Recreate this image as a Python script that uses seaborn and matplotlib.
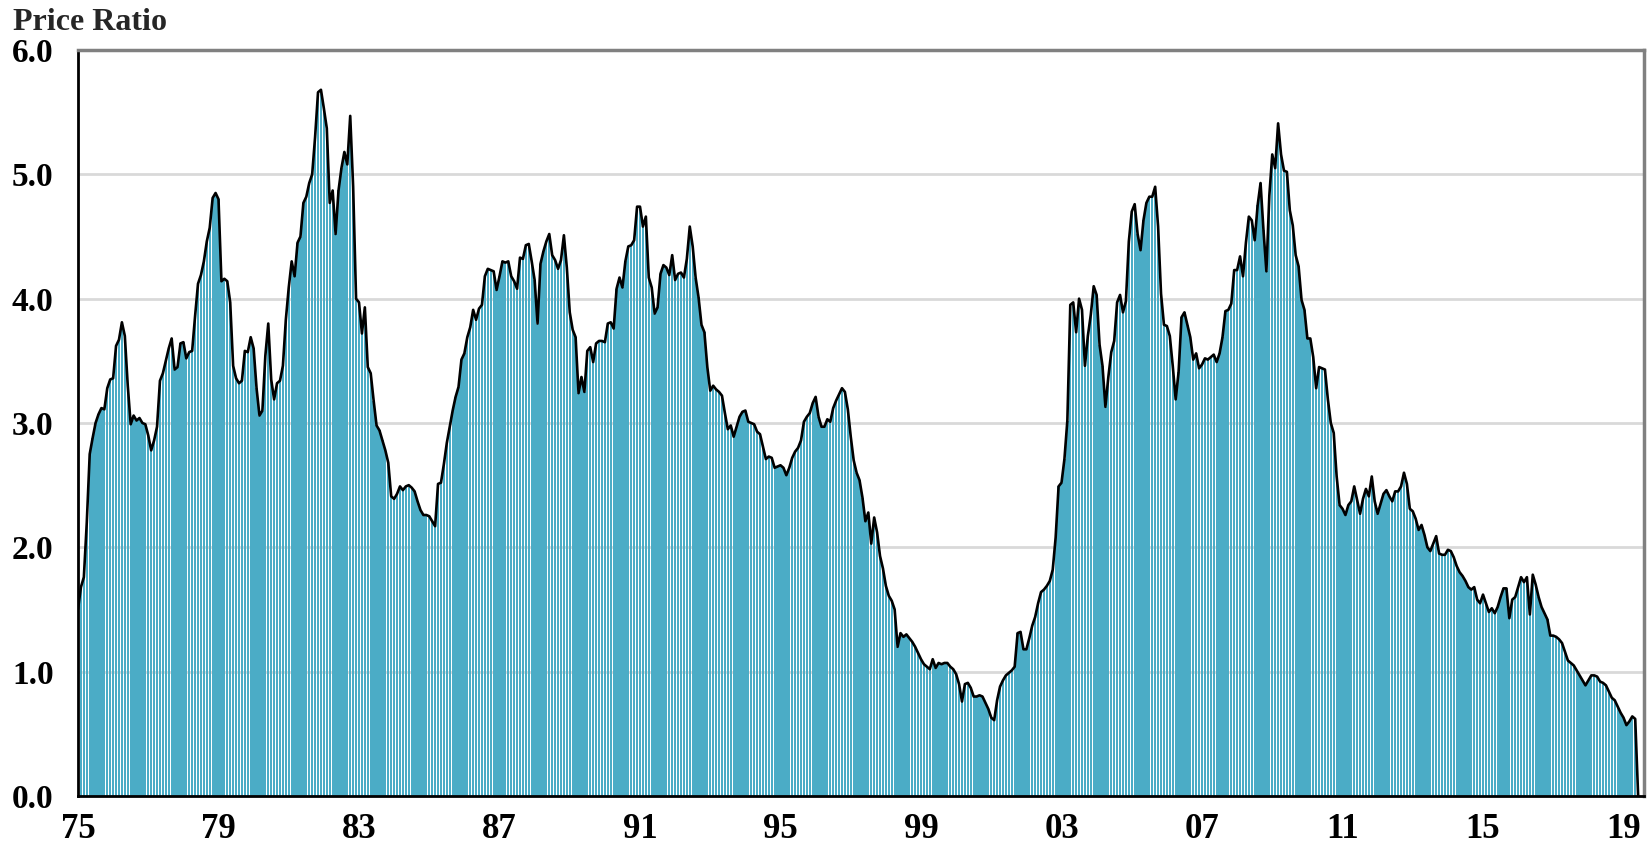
import numpy as np
import pandas as pd
import matplotlib
matplotlib.use("Agg")
import matplotlib.pyplot as plt
import seaborn as sns

# monthly price ratio, Jan 1975 - Jun 2019
ratio_1975_79 = [
    1.50, 1.68, 1.76, 2.20, 2.75, 2.88, 3.00, 3.07, 3.12, 3.11, 3.28, 3.35,
    3.36, 3.62, 3.67, 3.81, 3.70, 3.30, 2.99, 3.06, 3.02, 3.04, 3.00, 2.99,
    2.90, 2.78, 2.86, 2.97, 3.34, 3.40, 3.50, 3.60, 3.68, 3.43, 3.45, 3.64,
    3.65, 3.52, 3.57, 3.58, 3.86, 4.12, 4.19, 4.30, 4.46, 4.57, 4.81, 4.85,
    4.80, 4.14, 4.16, 4.14, 3.97, 3.46, 3.36, 3.32, 3.34, 3.58, 3.57, 3.69,
]
ratio_1980s = [
    3.60, 3.28, 3.06, 3.10, 3.54, 3.80, 3.35, 3.19, 3.32, 3.34, 3.46, 3.83,
    4.09, 4.30, 4.18, 4.45, 4.50, 4.77, 4.82, 4.93, 5.00, 5.30, 5.66, 5.68,
    5.53, 5.37, 4.77, 4.87, 4.52, 4.87, 5.05, 5.18, 5.08, 5.47, 4.90, 4.00,
    3.97, 3.72, 3.93, 3.45, 3.40, 3.18, 2.98, 2.94, 2.86, 2.78, 2.68, 2.41,
    2.39, 2.43, 2.49, 2.46, 2.49, 2.50, 2.48, 2.45, 2.37, 2.30, 2.26, 2.26,
    2.25, 2.21, 2.17, 2.51, 2.52, 2.67, 2.84, 2.97, 3.10, 3.21, 3.29, 3.51,
    3.56, 3.69, 3.77, 3.91, 3.83, 3.92, 3.95, 4.18, 4.24, 4.23, 4.22, 4.07,
    4.18, 4.30, 4.29, 4.30, 4.18, 4.14, 4.08, 4.33, 4.32, 4.43, 4.44, 4.30,
    4.15, 3.80, 4.28, 4.38, 4.46, 4.52, 4.35, 4.31, 4.24, 4.31, 4.51, 4.25,
    3.89, 3.75, 3.69, 3.24, 3.37, 3.25, 3.58, 3.61, 3.49, 3.64, 3.66, 3.66,
]
ratio_1990s = [
    3.65, 3.80, 3.81, 3.76, 4.08, 4.17, 4.09, 4.30, 4.42, 4.43, 4.47, 4.74,
    4.74, 4.58, 4.66, 4.17, 4.09, 3.88, 3.93, 4.20, 4.27, 4.25, 4.19, 4.35,
    4.15, 4.20, 4.21, 4.17, 4.32, 4.58, 4.42, 4.17, 4.01, 3.79, 3.73, 3.45,
    3.26, 3.30, 3.27, 3.25, 3.22, 3.08, 2.95, 2.98, 2.89, 2.97, 3.05, 3.09,
    3.10, 3.01, 3.00, 2.99, 2.93, 2.91, 2.81, 2.71, 2.73, 2.72, 2.64, 2.65,
    2.66, 2.64, 2.58, 2.64, 2.72, 2.77, 2.80, 2.86, 3.01, 3.05, 3.08, 3.16,
    3.21, 3.05, 2.97, 2.97, 3.03, 3.01, 3.12, 3.18, 3.23, 3.28, 3.25, 3.11,
    2.89, 2.70, 2.60, 2.54, 2.40, 2.21, 2.28, 2.03, 2.24, 2.12, 1.93, 1.83,
    1.69, 1.61, 1.57, 1.50, 1.20, 1.31, 1.28, 1.30, 1.27, 1.24, 1.20, 1.15,
    1.10, 1.06, 1.04, 1.02, 1.10, 1.03, 1.07, 1.06, 1.07, 1.07, 1.04, 1.02,
]
ratio_2000s = [
    0.98, 0.90, 0.76, 0.90, 0.91, 0.87, 0.80, 0.80, 0.81, 0.80, 0.75, 0.70,
    0.63, 0.61, 0.77, 0.88, 0.93, 0.97, 0.99, 1.01, 1.04, 1.31, 1.32, 1.18,
    1.18, 1.27, 1.37, 1.44, 1.55, 1.64, 1.66, 1.69, 1.73, 1.82, 2.08, 2.49,
    2.52, 2.71, 3.02, 3.95, 3.97, 3.73, 4.00, 3.91, 3.46, 3.70, 3.87, 4.10,
    4.03, 3.63, 3.46, 3.13, 3.37, 3.57, 3.66, 3.97, 4.03, 3.89, 3.98, 4.46,
    4.70, 4.76, 4.52, 4.39, 4.63, 4.77, 4.82, 4.82, 4.90, 4.58, 4.04, 3.79,
    3.78, 3.70, 3.46, 3.19, 3.41, 3.85, 3.89, 3.79, 3.69, 3.51, 3.56, 3.44,
    3.47, 3.52, 3.51, 3.53, 3.55, 3.49, 3.56, 3.69, 3.90, 3.91, 3.96, 4.23,
    4.23, 4.34, 4.18, 4.45, 4.66, 4.63, 4.47, 4.75, 4.93, 4.55, 4.22, 4.83,
    5.16, 5.05, 5.41, 5.16, 5.03, 5.02, 4.71, 4.59, 4.35, 4.26, 3.99, 3.91,
]
ratio_2010s = [
    3.68, 3.68, 3.53, 3.28, 3.45, 3.44, 3.43, 3.19, 3.00, 2.92, 2.57, 2.34,
    2.31, 2.26, 2.34, 2.37, 2.49, 2.38, 2.27, 2.39, 2.47, 2.41, 2.57, 2.37,
    2.27, 2.35, 2.43, 2.46, 2.41, 2.37, 2.45, 2.45, 2.49, 2.60, 2.51, 2.31,
    2.29, 2.23, 2.14, 2.18, 2.10, 2.00, 1.97, 2.03, 2.09, 1.95, 1.94, 1.94,
    1.98, 1.97, 1.92, 1.85, 1.80, 1.77, 1.73, 1.68, 1.66, 1.68, 1.58, 1.55,
    1.62, 1.55, 1.48, 1.51, 1.47, 1.52, 1.60, 1.67, 1.67, 1.43, 1.58, 1.60,
    1.68, 1.76, 1.72, 1.76, 1.46, 1.78, 1.70, 1.60, 1.52, 1.47, 1.42, 1.29,
    1.29, 1.28, 1.26, 1.23, 1.16, 1.09, 1.07, 1.05, 1.01, 0.97, 0.93, 0.89,
    0.93, 0.97, 0.97, 0.96, 0.92, 0.91, 0.89, 0.84, 0.79, 0.77, 0.72, 0.67,
    0.63, 0.57, 0.60, 0.64, 0.62, 0.00,
]
year_labels = ["75", "79", "83", "87", "91", "95", "99", "03", "07", "11", "15", "19"]
y_ticks = [0, 1, 2, 3, 4, 5, 6]

ratio = ratio_1975_79 + ratio_1980s + ratio_1990s + ratio_2000s + ratio_2010s
df = pd.DataFrame({"month": np.arange(len(ratio)), "ratio": ratio})

sns.set_style("white")
plt.rcParams["font.family"] = ["Liberation Serif", "DejaVu Serif"]
plt.rcParams["font.weight"] = "bold"

fig = plt.figure(figsize=(16.52, 8.49), dpi=100)
ax = fig.add_axes([78 / 1652, 53 / 849, 1566 / 1652, 746 / 849])

teal = "#4BACC6"
sns.barplot(data=df, x="month", y="ratio", native_scale=True, width=0.78,
            color=teal, saturation=1, errorbar=None, linewidth=0, ax=ax)
sns.lineplot(data=df, x="month", y="ratio", color="black", linewidth=1.9, ax=ax)

ax.set_xlim(0, 535)
ax.set_ylim(0, 6)
ax.set_xlabel("")
ax.set_ylabel("")

ax.set_yticks(y_ticks)
ax.set_yticklabels([f"{v:.1f}" for v in y_ticks], fontsize=24, fontweight="bold")
ax.set_xticks(np.arange(0, 535, 48))
ax.set_xticklabels(year_labels, fontsize=25, fontweight="bold")
ax.set_xticks(np.arange(0, 535, 12), minor=True)

ax.yaxis.grid(True, color="#d9d9d9", linewidth=2)
ax.xaxis.grid(False)
ax.set_axisbelow(True)

ax.tick_params(axis="y", direction="out", length=6.5, width=2, pad=11, colors="black")
ax.tick_params(axis="x", which="both", direction="out", length=7.2, width=2,
               pad=5, colors="black")

for side in ["left", "bottom"]:
    ax.spines[side].set_color("black")
    ax.spines[side].set_linewidth(2)
for side in ["top", "right"]:
    ax.spines[side].set_visible(True)
    ax.spines[side].set_color("#808080")
    ax.spines[side].set_linewidth(2.5)

fig.text(13 / 1652, 1 - 30 / 849, "Price Ratio", fontsize=23, fontweight="bold",
         va="baseline", ha="left")

fig.savefig("out.png", dpi=100)
